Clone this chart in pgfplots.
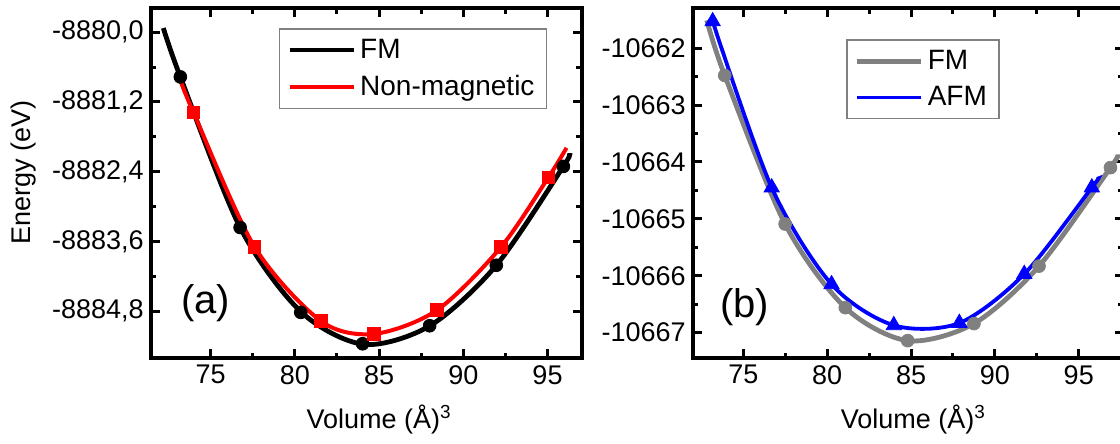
\documentclass[border=0pt]{standalone}
\usepackage{fontspec}
\setmainfont{Liberation Sans}
\usepackage{pgfplots}
\pgfplotsset{compat=1.18}

\definecolor{fmgray}{RGB}{128,128,128}
\newcommand{\tickfont}{\fontsize{13.5}{16}\selectfont}

\pgfplotsset{
  evpanel/.style={
    scale only axis,
    width=215.5pt, height=175pt,
    axis line style={line width=1.9pt},
    every tick/.style={line width=1.5pt, black},
    major tick length=4.5pt, minor tick length=2.8pt,
    tick align=inside,
    scaled ticks=false,
    xtick={75,80,85,90,95}, minor x tick num=1,
    minor y tick num=1,
    tick label style={font=\tickfont},
    label style={font=\tickfont},
    /pgf/number format/assume math mode=true,
    /pgf/number format/1000 sep={},
    xlabel={Volume (Å)\textsuperscript{3}},
    legend cell align=left,
    legend style={draw=fmgray, line width=0.7pt, fill=white,
      font=\fontsize{14}{16}\selectfont, inner xsep=4pt, inner ysep=3pt, row sep=3pt},
    legend image code/.code={\draw[##1] (0pt,0pt) -- (32pt,0pt);},
  }
}

\begin{document}
\begin{tikzpicture}
\useasboundingbox (0,0) rectangle (560pt,222pt);

% (a) FM vs non-magnetic
\begin{axis}[evpanel,
  at={(75.35pt,42.85pt)}, anchor=south west,
  xmin=71.44, xmax=97.03,
  ymin=-8885.61, ymax=-8879.59,
  ytick={-8884.8,-8883.6,-8882.4,-8881.2,-8880.0},
  yticklabel style={/pgf/number format/fixed, /pgf/number format/fixed zerofill,
    /pgf/number format/precision=1, /pgf/number format/use comma,
    /pgf/number format/1000 sep={}},
  ylabel={Energy (eV)},
  ylabel style={at={(rel axis cs:-0.294,0.53)}, anchor=center},
  xlabel style={at={(rel axis cs:0.53,-0.176)}, anchor=center},
  legend style={at={(0.92,0.943)}, anchor=north east},
]
\addplot[black, line width=2.4pt, smooth] coordinates {
  (72.19,-8879.93) (73.20,-8880.77) (76.75,-8883.36) (80.36,-8884.81)
  (84.09,-8885.37) (88.02,-8885.05) (91.96,-8884.01) (95.94,-8882.31)
  (96.23,-8882.13)};
\addlegendentry{FM}
\addplot[red, line width=2pt, smooth] coordinates {
  (73.19,-8880.82) (73.98,-8881.38) (77.60,-8883.69) (81.55,-8884.97)
  (84.71,-8885.19) (88.45,-8884.78) (92.23,-8883.70) (95.05,-8882.50)
  (96.13,-8881.99)};
\addlegendentry{Non-magnetic}
\addplot[only marks, mark=*, mark size=3.2pt, black, forget plot] coordinates {
  (73.20,-8880.77) (76.75,-8883.36) (80.35,-8884.82) (84.02,-8885.36)
  (88.00,-8885.05) (91.96,-8884.01) (95.94,-8882.31)};
\addplot[only marks, mark=square*, mark size=3.2pt, red, forget plot] coordinates {
  (73.98,-8881.38) (77.60,-8883.69) (81.55,-8884.97) (84.71,-8885.19)
  (88.45,-8884.78) (92.23,-8883.70) (95.05,-8882.50)};
\node[font=\fontsize{20}{24}\selectfont] at (axis cs:74.7,-8884.67) {(a)};
\end{axis}

% (b) FM vs AFM
\begin{axis}[evpanel,
  at={(346.35pt,42.85pt)}, anchor=south west,
  xmin=71.98, xmax=97.68,
  ymin=-10667.45, ymax=-10661.30,
  ytick={-10667,-10666,-10665,-10664,-10663,-10662},
  yticklabel style={/pgf/number format/fixed, /pgf/number format/precision=0},
  xlabel style={at={(rel axis cs:0.512,-0.176)}, anchor=center},
  legend style={at={(0.712,0.911)}, anchor=north east},
]
\addplot[fmgray, line width=2.4pt, smooth] coordinates {
  (72.82,-10661.51) (73.89,-10662.48) (77.49,-10665.09) (81.08,-10666.56)
  (84.80,-10667.14) (88.75,-10666.84) (92.63,-10665.83) (96.89,-10664.10)
  (97.25,-10663.92)};
\addlegendentry{FM}
\addplot[blue, line width=1.9pt, smooth] coordinates {
  (73.17,-10661.53) (76.69,-10664.45) (80.26,-10666.15) (83.97,-10666.87)
  (87.88,-10666.83) (91.75,-10665.97) (95.78,-10664.45) (96.12,-10664.30)};
\addlegendentry{AFM}
\addplot[only marks, mark=*, mark size=3.2pt, fmgray, forget plot] coordinates {
  (73.89,-10662.48) (77.49,-10665.09) (81.08,-10666.56) (84.80,-10667.14)
  (88.75,-10666.84) (92.63,-10665.83) (96.89,-10664.10)};
\addplot[only marks, mark=triangle*, mark size=4.4pt, blue, forget plot] coordinates {
  (73.17,-10661.53) (76.69,-10664.45) (80.26,-10666.15) (83.97,-10666.87)
  (87.88,-10666.83) (91.75,-10665.97) (95.78,-10664.45)};
\node[font=\fontsize{20}{24}\selectfont] at (axis cs:75.08,-10666.56) {(b)};
\end{axis}
\end{tikzpicture}
\end{document}
